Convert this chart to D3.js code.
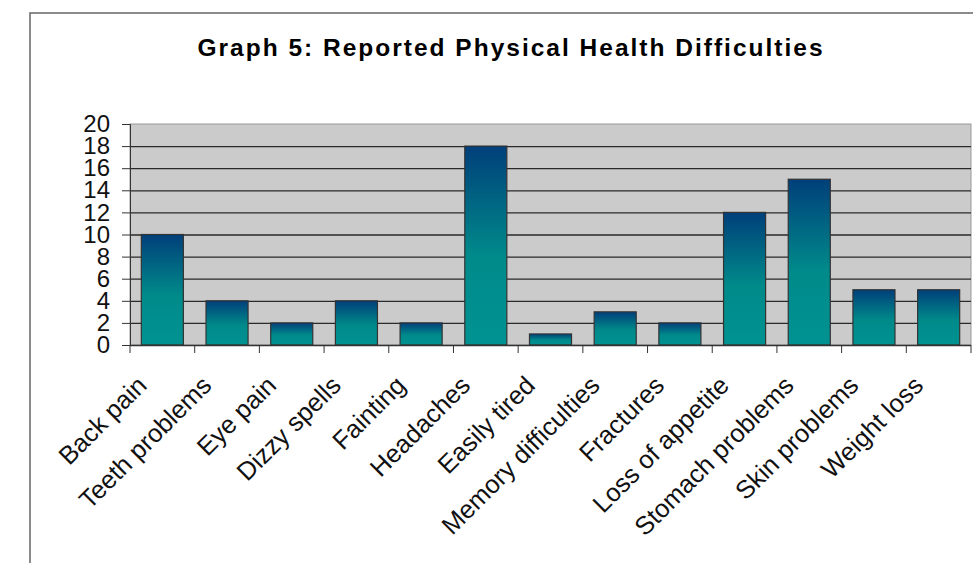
<!DOCTYPE html>
<html><head><meta charset="utf-8">
<script src="https://cdn.jsdelivr.net/npm/d3@7"></script>
<style>body{margin:0;background:#fff}svg{display:block}text{font-family:"Liberation Sans",Arial,sans-serif}</style>
</head><body>
<svg id="c" width="973" height="563"></svg>
<script>
const categories = ["Back pain","Teeth problems","Eye pain","Dizzy spells","Fainting","Headaches","Easily tired","Memory difficulties","Fractures","Loss of appetite","Stomach problems","Skin problems","Weight loss"];
const values = [10,4,2,4,2,18,1,3,2,12,15,5,5];
const yTicks = [0,2,4,6,8,10,12,14,16,18,20];
const title = "Graph 5: Reported Physical Health Difficulties";

const svg = d3.select("#c");
const L = 130, R = 971, T = 124, B = 345;

const defs = svg.append("defs");
const g = defs.append("linearGradient").attr("id","bg").attr("x1",0).attr("y1",0).attr("x2",0).attr("y2",1);
g.append("stop").attr("offset","0%").attr("stop-color","#003f7a");
g.append("stop").attr("offset","55%").attr("stop-color","#008a8a");
g.append("stop").attr("offset","100%").attr("stop-color","#009292");

// outer frame
svg.append("rect").attr("x",30).attr("y",13).attr("width",960).attr("height",570)
  .attr("fill","none").attr("stroke","#666").attr("stroke-width",1.5);

svg.append("text").attr("x",511).attr("y",56).attr("text-anchor","middle")
  .attr("font-size",24.5).attr("font-weight","bold").attr("letter-spacing",2.0).text(title);

const x = d3.scaleBand().domain(categories).range([L,R]).paddingInner(0.35).paddingOuter(0.175);
const xs = d3.scaleBand().domain(categories).range([L,R]);
const y = d3.scaleLinear().domain([0,20]).range([B,T]);

svg.append("rect").attr("x",L).attr("y",T).attr("width",R-L).attr("height",B-T).attr("fill","#cbcbcb").attr("stroke","#999");

svg.append("g").selectAll("line").data(yTicks.slice(1,-1)).join("line")
  .attr("x1",L).attr("x2",R).attr("y1",d=>y(d)+0.5).attr("y2",d=>y(d)+0.5).attr("stroke","#2a2a2a").attr("stroke-width",1.3);

svg.append("g").selectAll("rect").data(values).join("rect")
  .attr("x",(d,i)=>x(categories[i])).attr("width",x.bandwidth())
  .attr("y",d=>y(d)).attr("height",d=>B-y(d))
  .attr("fill","url(#bg)").attr("stroke","#333").attr("stroke-width",1.2);

// y axis
const ya = svg.append("g").attr("transform",`translate(${L},0)`)
  .call(d3.axisLeft(y).tickValues(yTicks).tickSize(8).tickPadding(12));
ya.select(".domain").attr("stroke","#333");
ya.selectAll(".tick line").attr("stroke","#333");
ya.selectAll(".tick text").attr("font-size",24).attr("fill","#111").attr("font-family","Liberation Sans, Arial, sans-serif");

// x axis
const xa = svg.append("g").attr("transform",`translate(0,${B})`);
xa.append("line").attr("x1",L).attr("x2",R).attr("y1",0.5).attr("y2",0.5).attr("stroke","#333").attr("stroke-width",1.3);
xa.selectAll("line.t").data(d3.range(categories.length+1)).join("line").attr("class","t")
  .attr("x1",i=>L+i*xs.step()).attr("x2",i=>L+i*xs.step()).attr("y1",0).attr("y2",8).attr("stroke","#333");
xa.selectAll("text").data(categories).join("text")
  .attr("transform",d=>`translate(${xs(d)+xs.bandwidth()/2-27},${29}) rotate(-45)`)
  .attr("text-anchor","end").attr("dy","0.72em").attr("font-size",25.5).attr("fill","#111").text(d=>d);
</script>
</body></html>
